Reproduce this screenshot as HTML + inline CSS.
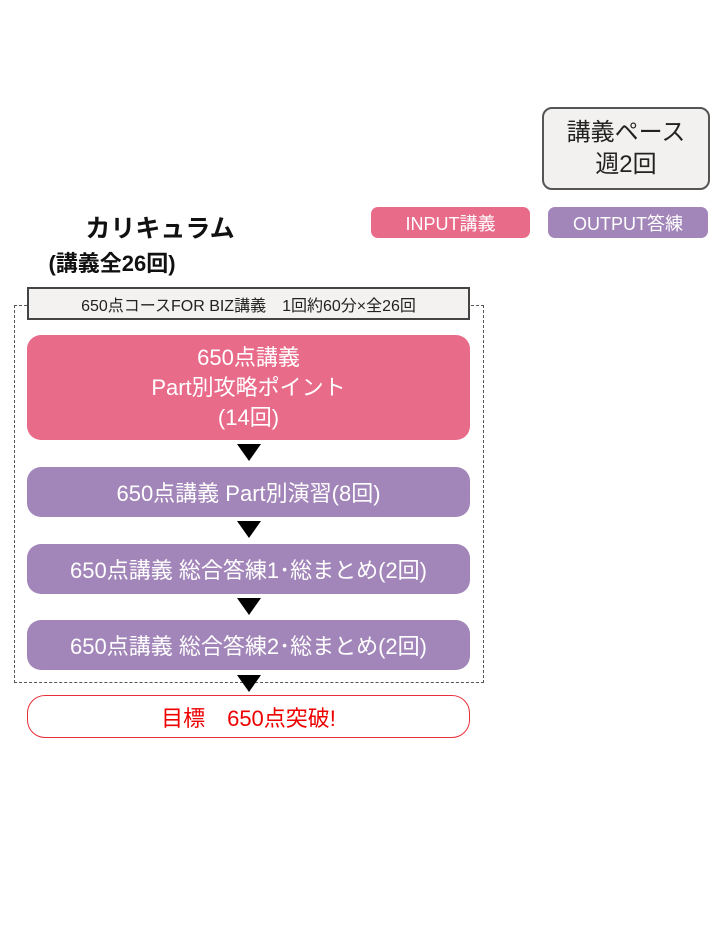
<!DOCTYPE html>
<html><head><meta charset="utf-8"><style>
body{margin:0;width:720px;height:934px;background:#fff;position:relative;overflow:hidden;font-family:"Liberation Sans","Noto Sans CJK JP",sans-serif}
.a{position:absolute;box-sizing:border-box;display:flex;align-items:center;justify-content:center;text-align:center}
.p{background:#a386b9;color:#fff;border-radius:14px;font-size:22px}
.t{position:absolute;width:0;height:0;border-left:12px solid transparent;border-right:12px solid transparent;border-top:17px solid #000;left:237px}
</style></head><body>
<div class="a" style="left:542px;top:107px;width:168px;height:83px;border:2px solid #555;border-radius:10px;background:#f2f1ef;font-size:24px;line-height:32px;color:#222">講義ペース<br>週2回</div>
<div class="a" style="left:371px;top:207px;width:159px;height:31px;background:#e96b8a;color:#fff;border-radius:7px;font-size:18px">INPUT講義</div>
<div class="a" style="left:548px;top:207px;width:160px;height:31px;background:#a386b9;color:#fff;border-radius:7px;font-size:18px">OUTPUT答練</div>
<div class="a" style="left:70px;top:210px;width:180px;height:34px;font-size:25px;font-weight:bold;color:#111">カリキュラム</div>
<div class="a" style="left:36px;top:247px;width:152px;height:30px;font-size:22px;font-weight:bold;color:#111">(講義全26回)</div>
<div style="position:absolute;left:14px;top:305px;width:470px;height:378px;box-sizing:border-box;border:1.5px dashed #555"></div>
<div class="a" style="left:27px;top:287px;width:443px;height:33px;background:#f3f2f0;border:2px solid #444;font-size:16px;color:#222">650点コースFOR BIZ講義　1回約60分×全26回</div>
<div class="a" style="left:27px;top:335px;width:443px;height:105px;background:#e96b8a;color:#fff;border-radius:14px;font-size:22px;line-height:30px">650点講義<br>Part別攻略ポイント<br>(14回)</div>
<div class="t" style="top:444px"></div>
<div class="a p" style="left:27px;top:467px;width:443px;height:50px">650点講義 Part別演習(8回)</div>
<div class="t" style="top:521px"></div>
<div class="a p" style="left:27px;top:544px;width:443px;height:50px">650点講義 総合答練1･総まとめ(2回)</div>
<div class="t" style="top:598px"></div>
<div class="a p" style="left:27px;top:620px;width:443px;height:50px">650点講義 総合答練2･総まとめ(2回)</div>
<div class="t" style="top:675px"></div>
<div class="a" style="left:27px;top:695px;width:443px;height:43px;border:1px solid #e8303a;border-radius:18px;color:#e00;font-size:22px;background:#fff">目標　650点突破!</div>
</body></html>
